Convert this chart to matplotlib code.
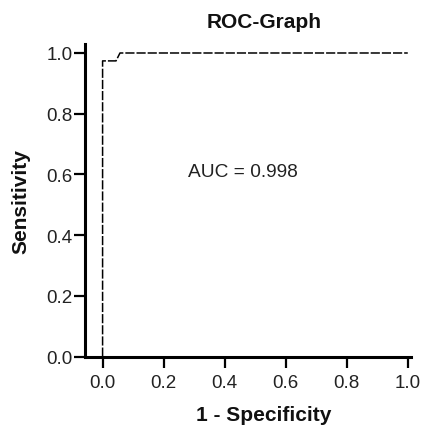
import matplotlib
matplotlib.use("Agg")
import matplotlib.pyplot as plt

fpr = [0.0, 0.0, 0.044, 0.057, 1.0]
tpr = [0.0, 0.974, 0.974, 1.0, 1.0]
ticks = [0.0, 0.2, 0.4, 0.6, 0.8, 1.0]
tick_labels = ["0.0", "0.2", "0.4", "0.6", "0.8", "1.0"]
auc_text = "AUC = 0.998"

plt.rcParams['font.family'] = ['Liberation Sans', 'DejaVu Sans']

fig = plt.figure(figsize=(4.22, 4.27), dpi=100)
ax = fig.add_axes([0.2026, 0.1623, 0.9735 - 0.2026, 0.8946 - 0.1623])

ax.plot(fpr, tpr, color='black', lw=1.1, dashes=(6, 1.3))
ax.set_xlim(-0.056, 1.01)
ax.set_ylim(0.0, 1.0296)

ax.set_xticks(ticks)
ax.set_xticklabels(tick_labels)
ax.set_yticks(ticks)
ax.set_yticklabels(tick_labels)

for s in ['top', 'right']:
    ax.spines[s].set_visible(False)
for s in ['left', 'bottom']:
    ax.spines[s].set_linewidth(2.2)

ax.tick_params(axis='both', length=8, width=1.6, labelsize=13.5, color='black',
               labelcolor='#222222')
ax.tick_params(axis='x', pad=4.5)
ax.tick_params(axis='y', pad=1.5)

ax.set_title("ROC-Graph", fontsize=15, fontweight='bold', pad=12, color='#111111', x=0.549)
ax.set_xlabel("1 - Specificity", fontsize=15, fontweight='bold', color='#111111')
ax.xaxis.set_label_coords(0.549, -0.204)
ax.xaxis.label.set_va('baseline')
ax.set_ylabel("Sensitivity", fontsize=15, fontweight='bold', labelpad=11, color='#111111')

ax.text(0.46, 0.611, auc_text, ha='center', va='center', fontsize=13.75, color='#222222')

fig.savefig("out.png", dpi=100)
